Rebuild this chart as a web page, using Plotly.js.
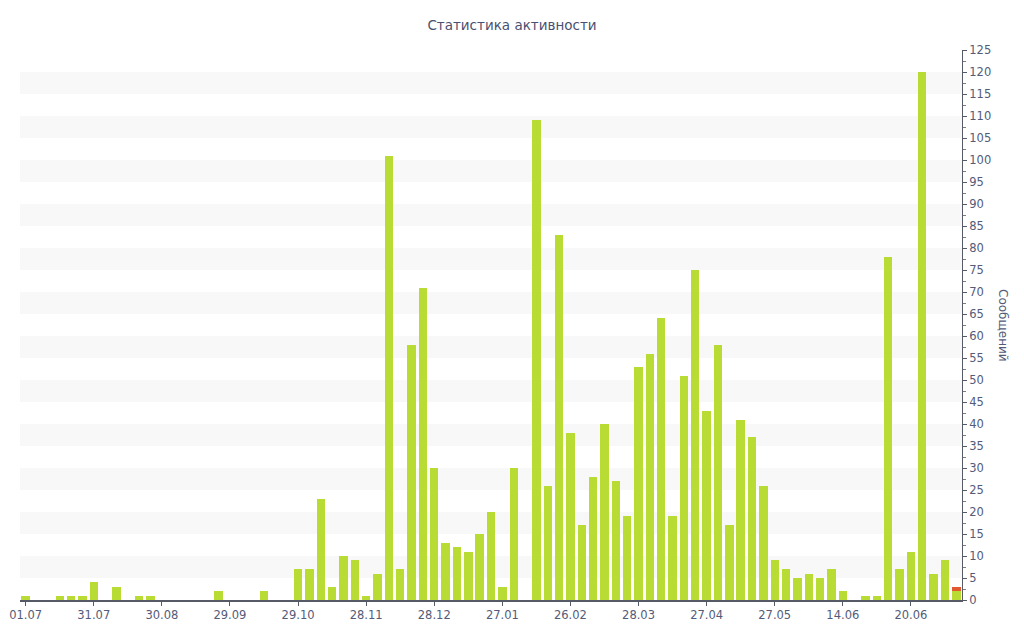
<!DOCTYPE html>
<html>
<head>
<meta charset="utf-8">
<script src="https://cdn.plot.ly/plotly-3.0.1.min.js"></script>
<style>
  html, body { margin: 0; padding: 0; background: #ffffff; }
  #chart { width: 1024px; height: 640px; }
</style>
</head>
<body>
<div id="chart"></div>
<script>
// Message counts per 5-day period, oldest first
const periodIndex = Array.from({length: 83}, (_, i) => i);
const messages = [
  1, 0, 0, 1, 1, 1, 4, 0, 3, 0,
  1, 1, 0, 0, 0, 0, 0, 2, 0, 0,
  0, 2, 0, 0, 7, 7, 23, 3, 10, 9,
  1, 6, 101, 7, 58, 71, 30, 13, 12, 11,
  15, 20, 3, 30, 0, 109, 26, 83, 38, 17,
  28, 40, 27, 19, 53, 56, 64, 19, 51, 75,
  43, 58, 17, 41, 37, 26, 9, 7, 5, 6,
  5, 7, 2, 0, 1, 1, 78, 7, 11, 120,
  6, 9, 2
];
// Messages in the current (unfinished) period, stacked on top
const currentMessages = new Array(83).fill(0);
currentMessages[82] = 1;

// Date labels shown under the axis, one every 6 periods
const tickLabels = ['01.07', '31.07', '30.08', '29.09', '29.10', '28.11', '28.12',
                    '27.01', '26.02', '28.03', '27.04', '27.05', '14.06', '20.06'];
const tickPositions = tickLabels.map((_, k) => k * 6);

const yMax = 125;
const bandStep = 5;

// Alternate light bands behind the bars
const bands = [];
for (let y = bandStep; y + bandStep <= yMax; y += 2 * bandStep) {
  bands.push({
    type: 'rect', xref: 'paper', yref: 'y', layer: 'below',
    x0: 0, x1: 1, y0: y, y1: y + bandStep,
    fillcolor: '#f8f8f8', line: {width: 0}
  });
}

const textColor = '#535b78';
const font = {family: 'DejaVu Sans, Verdana, sans-serif', size: 11.5, color: textColor};

const traces = [
  {
    type: 'bar', x: periodIndex, y: messages,
    marker: {color: '#b8dc34'}, hoverinfo: 'skip', name: 'Сообщения'
  },
  {
    type: 'bar', x: periodIndex, y: currentMessages,
    marker: {color: '#e2582f'}, hoverinfo: 'skip', name: 'Текущий период'
  }
];

const layout = {
  width: 1024, height: 640,
  margin: {l: 20, r: 62, t: 50, b: 40},
  paper_bgcolor: '#ffffff', plot_bgcolor: '#ffffff',
  barmode: 'stack', bargap: 0.26,
  showlegend: false,
  font: font,
  title: {
    text: 'Статистика активности',
    x: 0.5, xanchor: 'center', y: 0.96, yanchor: 'middle',
    font: {family: 'DejaVu Sans, Verdana, sans-serif', size: 13.5, color: '#4a5070'}
  },
  xaxis: {
    range: [-0.5, 82.5],
    tickmode: 'array', tickvals: tickPositions, ticktext: tickLabels,
    showgrid: false, zeroline: false,
    showline: true, linecolor: '#555a66', linewidth: 1.5,
    ticks: 'outside', ticklen: 4, tickcolor: '#555a66',
    tickfont: font, fixedrange: true
  },
  yaxis: {
    side: 'right', range: [0, yMax],
    tickmode: 'linear', tick0: 0, dtick: 5,
    showgrid: false, zeroline: false,
    showline: true, linecolor: '#555a66', linewidth: 1,
    ticks: 'outside', ticklen: 4, tickcolor: '#555a66',
    minor: {dtick: 2.5, ticks: 'outside', ticklen: 3, tickcolor: '#777c88'},
    tickfont: font, fixedrange: true
  },
  shapes: bands,
  annotations: [{
    text: 'Сообщений', textangle: 90,
    xref: 'paper', yref: 'paper', x: 1, xshift: 41, y: 0.5,
    xanchor: 'center', yanchor: 'middle', showarrow: false,
    font: {family: 'DejaVu Sans, Verdana, sans-serif', size: 12, color: textColor}
  }]
};

Plotly.newPlot('chart', traces, layout, {displayModeBar: false, staticPlot: true});
</script>
</body>
</html>
